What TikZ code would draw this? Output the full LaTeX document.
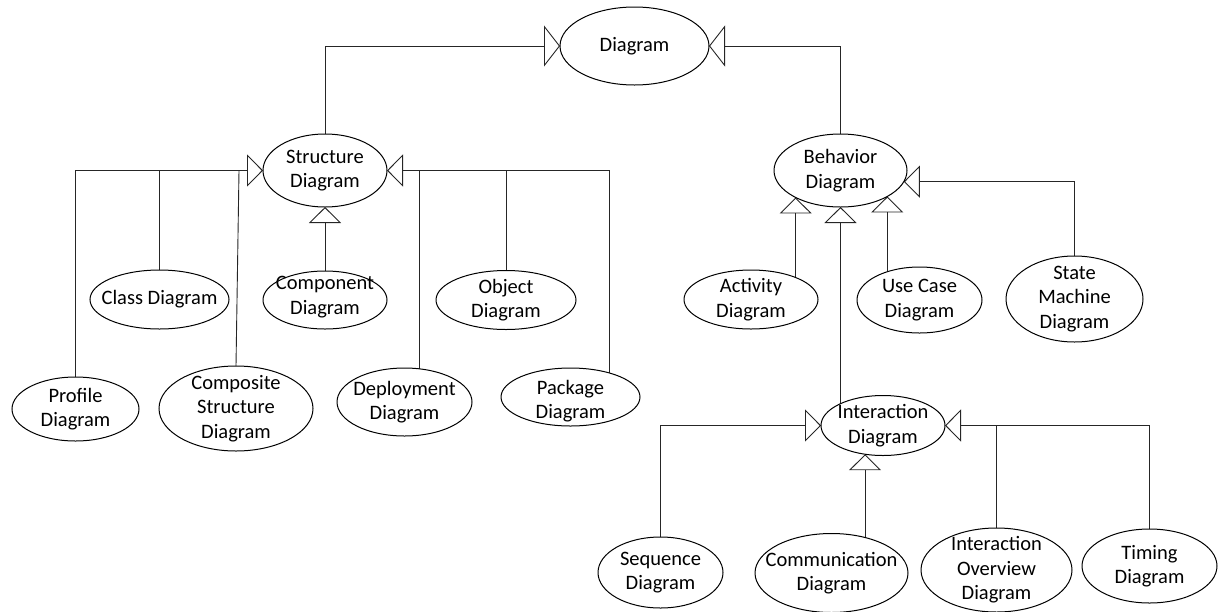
\documentclass[tikz,border=0pt]{standalone}
\usepackage{fontspec}
\setmainfont{Carlito}
\usetikzlibrary{arrows.meta,shapes.geometric}
\pgfdeclarelayer{bg}
\pgfsetlayers{bg,main}
\tikzset{
  ent/.style={ellipse, draw, fill=white, line width=1pt, inner sep=0pt, outer sep=0pt},
  lbl/.style={align=center, inner sep=0pt, font=\fontsize{20.5}{24.5}\selectfont},
  conn/.style={line width=0.9pt, draw=black!85},
  gen/.style={conn, -{Triangle[open, length=16pt, width=32pt, line width=0.9pt]}},
  genbig/.style={conn, -{Triangle[open, length=16pt, width=41pt, line width=0.9pt]}},
}
\begin{document}
\begin{tikzpicture}[x=1pt, y=-1pt]
\useasboundingbox (0,0) rectangle (1218,611);

% top level
\node[ent, minimum width=149pt, minimum height=78pt, label={[lbl]center:Diagram}] (diagram) at (634.5,46) {};

% structure branch
\node[ent, minimum width=124pt, minimum height=73pt, label={[lbl]center:{Structure\\Diagram}}] (structure) at (325,170.5) {};
\node[ent, minimum width=139pt, minimum height=59pt, label={[lbl]center:{Class Diagram}}] (class) at (159.5,299.5) {};
\node[ent, minimum width=124pt, minimum height=58pt, label={[lbl,yshift=3pt]center:{Component\\Diagram}}] (component) at (325,300) {};
\node[ent, minimum width=140pt, minimum height=59pt, label={[lbl]center:{Object\\Diagram}}] (object) at (506,300) {};
\node[ent, minimum width=127pt, minimum height=64pt, label={[lbl]center:{Profile\\Diagram}}] (profile) at (75.5,409) {};
\node[ent, minimum width=154pt, minimum height=85pt, label={[lbl]center:{Composite\\Structure\\Diagram}}] (composite) at (236,408.5) {};
\node[ent, minimum width=135pt, minimum height=68pt, label={[lbl]center:{Deployment\\Diagram}}] (deploy) at (404.5,402) {};
\node[ent, minimum width=139pt, minimum height=58pt, label={[lbl,yshift=-4pt]center:{Package\\Diagram}}] (package) at (570.5,397) {};

% behavior branch
\node[ent, minimum width=133pt, minimum height=73pt, label={[lbl]center:{Behavior\\Diagram}}] (behavior) at (840.5,170.5) {};
\node[ent, minimum width=134pt, minimum height=59pt, label={[lbl]center:{Activity\\Diagram}}] (activity) at (751,299.5) {};
\node[ent, minimum width=125pt, minimum height=66pt, label={[lbl]center:{Use Case\\Diagram}}] (usecase) at (919.5,300) {};
\node[ent, minimum width=137pt, minimum height=86pt, label={[lbl]center:{State\\Machine\\Diagram}}] (state) at (1074.5,299) {};

% interaction branch
\node[ent, minimum width=124pt, minimum height=60pt, label={[lbl]center:{Interaction\\Diagram}}] (interaction) at (883,425.5) {};
\node[ent, minimum width=125pt, minimum height=71pt, label={[lbl]center:{Sequence\\Diagram}}] (sequence) at (660.5,572.5) {};
\node[ent, minimum width=153pt, minimum height=79pt, label={[lbl]center:{Communication\\Diagram}}] (comm) at (831.5,573) {};
\node[ent, minimum width=151pt, minimum height=84pt, label={[lbl]center:{Interaction\\Overview\\Diagram}}] (overview) at (996.5,570) {};
\node[ent, minimum width=135pt, minimum height=74pt, label={[lbl]center:{Timing\\Diagram}}] (timing) at (1149.5,566) {};

\begin{pgfonlayer}{bg}
% generalizations to Diagram
\draw[genbig] (structure) |- (diagram.west);
\draw[genbig] (behavior) |- (diagram.east);

% structure diagrams
\draw[gen] (profile) |- (structure.west);
\draw[conn] (class) -- (class |- structure.west);
\draw[conn] (composite.north) -- ([xshift=3pt]composite.north |- structure.west);
\draw[gen] (component) -- (structure);
\draw[gen] ([xshift=38.5pt]package.center) |- (structure.east);
\draw[conn] (object) -- (object |- structure.east);
\draw[conn] ([xshift=14.5pt]deploy.center) -- ([xshift=14.5pt]deploy.center |- structure.east);

% behavior diagrams
\draw[gen] (activity.center -| behavior.211) -- (behavior.211);
\draw[gen] (interaction.center -| behavior.south) -- (behavior.south);
\draw[gen] (usecase.center -| behavior.331) -- (behavior.331);
\draw[gen] (state) |- (behavior.350);

% interaction diagrams
\draw[gen] (sequence) |- (interaction.west);
\draw[gen] (comm.center -| interaction.238) -- (interaction.238);
\draw[gen] (timing) |- (interaction.east);
\draw[conn] (overview) -- (overview |- interaction.east);
\end{pgfonlayer}
\end{tikzpicture}
\end{document}
